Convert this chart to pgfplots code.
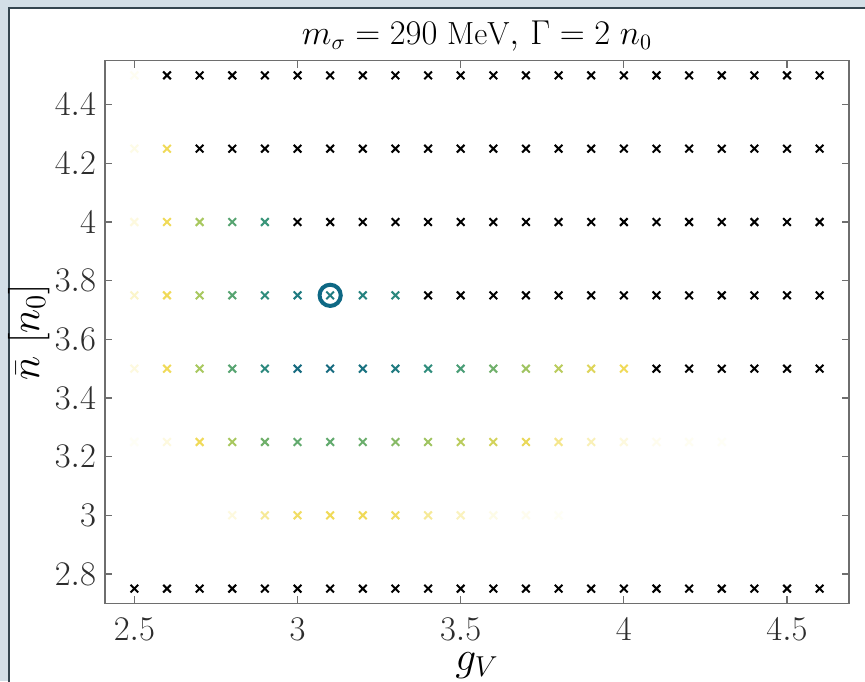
\documentclass[border=0pt]{standalone}
\usepackage{fontspec}
\usepackage{pgfplots}
\pgfplotsset{compat=1.18}
\usepackage{pgfplotstable}
\definecolor{bgblue}{RGB}{211,223,231}
\definecolor{panelborder}{RGB}{52,69,79}
\definecolor{axgray}{RGB}{110,110,110}
\definecolor{txtgray}{RGB}{45,45,45}
\definecolor{ringcol}{RGB}{14,104,132}

% colored points: x y meta
\pgfplotstableread{
x y c
2.5 4.5 0.03
2.5 4.25 0.06
2.6 4.25 0.30
2.5 4.0 0.08
2.6 4.0 0.30
2.7 4.0 0.50
2.8 4.0 0.68
2.9 4.0 0.76
2.5 3.75 0.12
2.6 3.75 0.30
2.7 3.75 0.50
2.8 3.75 0.68
2.9 3.75 0.80
3.0 3.75 0.88
3.1 3.75 0.88
3.2 3.75 0.85
3.3 3.75 0.82
2.5 3.5 0.08
2.6 3.5 0.30
2.7 3.5 0.50
2.8 3.5 0.68
2.9 3.5 0.82
3.0 3.5 0.95
3.1 3.5 0.95
3.2 3.5 0.92
3.3 3.5 0.88
3.4 3.5 0.80
3.5 3.5 0.72
3.6 3.5 0.62
3.7 3.5 0.52
3.8 3.5 0.45
3.9 3.5 0.35
4.0 3.5 0.30
2.5 3.25 0.02
2.6 3.25 0.08
2.7 3.25 0.30
2.8 3.25 0.50
2.9 3.25 0.62
3.0 3.25 0.65
3.1 3.25 0.65
3.2 3.25 0.63
3.3 3.25 0.57
3.4 3.25 0.52
3.5 3.25 0.45
3.6 3.25 0.38
3.7 3.25 0.32
3.8 3.25 0.22
3.9 3.25 0.15
4.0 3.25 0.08
4.1 3.25 0.04
4.2 3.25 0.03
4.3 3.25 0.02
2.8 3.0 0.08
2.9 3.0 0.20
3.0 3.0 0.28
3.1 3.0 0.30
3.2 3.0 0.30
3.3 3.0 0.28
3.4 3.0 0.20
3.5 3.0 0.14
3.6 3.0 0.06
3.7 3.0 0.04
3.8 3.0 0.02
}\colored

% black points
\pgfplotstableread{
x y
2.6 4.5
2.7 4.5
2.8 4.5
2.9 4.5
3.0 4.5
3.1 4.5
3.2 4.5
3.3 4.5
3.4 4.5
3.5 4.5
3.6 4.5
3.7 4.5
3.8 4.5
3.9 4.5
4.0 4.5
4.1 4.5
4.2 4.5
4.3 4.5
4.4 4.5
4.5 4.5
4.6 4.5
2.7 4.25
2.8 4.25
2.9 4.25
3.0 4.25
3.1 4.25
3.2 4.25
3.3 4.25
3.4 4.25
3.5 4.25
3.6 4.25
3.7 4.25
3.8 4.25
3.9 4.25
4.0 4.25
4.1 4.25
4.2 4.25
4.3 4.25
4.4 4.25
4.5 4.25
4.6 4.25
3.0 4.0
3.1 4.0
3.2 4.0
3.3 4.0
3.4 4.0
3.5 4.0
3.6 4.0
3.7 4.0
3.8 4.0
3.9 4.0
4.0 4.0
4.1 4.0
4.2 4.0
4.3 4.0
4.4 4.0
4.5 4.0
4.6 4.0
3.4 3.75
3.5 3.75
3.6 3.75
3.7 3.75
3.8 3.75
3.9 3.75
4.0 3.75
4.1 3.75
4.2 3.75
4.3 3.75
4.4 3.75
4.5 3.75
4.6 3.75
4.1 3.5
4.2 3.5
4.3 3.5
4.4 3.5
4.5 3.5
4.6 3.5
2.5 2.75
2.6 2.75
2.7 2.75
2.8 2.75
2.9 2.75
3.0 2.75
3.1 2.75
3.2 2.75
3.3 2.75
3.4 2.75
3.5 2.75
3.6 2.75
3.7 2.75
3.8 2.75
3.9 2.75
4.0 2.75
4.1 2.75
4.2 2.75
4.3 2.75
4.4 2.75
4.5 2.75
4.6 2.75
}\blackpts

\begin{document}
\begin{tikzpicture}
\useasboundingbox (0,0) rectangle (432.5pt,340.5pt);
\fill[bgblue] (0,0) rectangle (432.5pt,340.5pt);
\fill[white] (4.5pt,-2pt) rectangle (436pt,336.5pt);
\draw[panelborder, line width=1pt] (4.5pt,-2pt) -- (4.5pt,336.5pt) -- (436pt,336.5pt);
\begin{axis}[
  at={(52.5pt,38.85pt)}, anchor=south west,
  width=372pt, height=271.3pt, scale only axis,
  xmin=2.41, xmax=4.69, ymin=2.70, ymax=4.55,
  xtick={2.5,3,3.5,4,4.5},
  ytick={2.8,3,3.2,3.4,3.6,3.8,4,4.2,4.4},
  tick align=inside, tick pos=both,
  major tick length=3.5pt,
  axis line style={axgray, line width=0.6pt},
  every tick/.style={axgray, line width=0.6pt},
  tick label style={font=\fontsize{17}{20}\selectfont, text=txtgray},
  xticklabel style={inner sep=0pt, yshift=-7.3pt},
  yticklabel style={xshift=-1pt},
  title={$m_\sigma = 290\ \mathrm{MeV},\, \Gamma = 2\ n_0$},
  title style={font=\fontsize{16}{19}\selectfont, at={(axis description cs:0.5,1)}, anchor=base, yshift=2pt},
  xlabel={$g_V$},
  xlabel style={font=\fontsize{20.5}{24}\selectfont, inner sep=0pt, at={(axis description cs:0.5,0)}, anchor=base, yshift=-33.5pt},
  ylabel={$\bar{n}\ [n_0]$},
  ylabel style={font=\fontsize{20}{23}\selectfont, at={(axis description cs:-0.0887,0.5)}, anchor=base},
  colormap={ylgb}{rgb255(0cm)=(255,255,252) rgb255(1cm)=(252,248,215) rgb255(3cm)=(240,218,88) rgb255(5cm)=(168,200,95) rgb255(6.5cm)=(98,170,110) rgb255(7.8cm)=(52,146,124) rgb255(9cm)=(28,118,130) rgb255(10cm)=(18,96,126)},
  point meta min=0, point meta max=1,
  clip=false,
]
\addplot[only marks, mark=x, mark size=2.7pt, line width=1pt, black] table[x=x,y=y] {\blackpts};
\addplot[scatter, only marks, mark=x, mark size=2.7pt, line width=1pt,
  scatter/use mapped color={draw=mapped color, fill=mapped color},
  point meta=explicit] table[x=x,y=y,meta=c] {\colored};
\addplot[only marks, mark=o, mark size=5.3pt, line width=2pt, ringcol] coordinates {(3.1,3.75)};
\end{axis}
\end{tikzpicture}
\end{document}
